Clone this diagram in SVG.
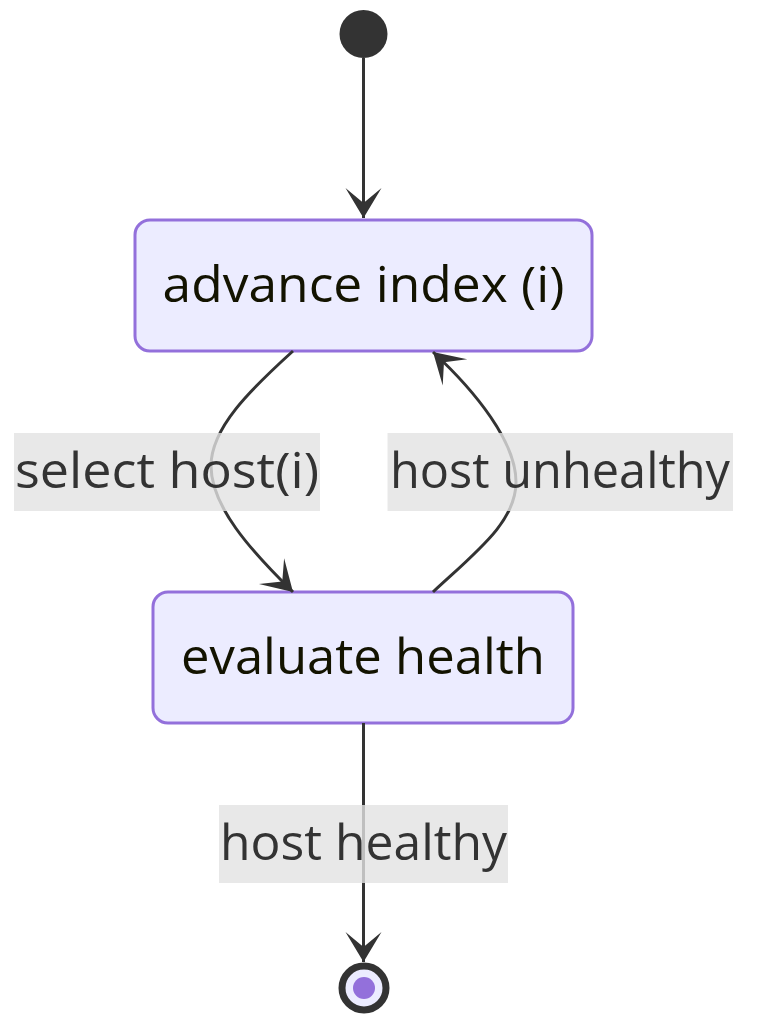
<svg xmlns="http://www.w3.org/2000/svg" width="763" height="1030" viewBox="0 0 763 1030">
<defs>
<style>
.node rect{fill:#ECECFF;stroke:#9370DB;stroke-width:3}
.ntext{font-family:"Open Sans","Liberation Sans",sans-serif;font-size:50px;fill:#131300;text-anchor:middle}
.edge{fill:none;stroke:#333333;stroke-width:3;marker-end:url(#barb)}
.lbg{fill:#e2e2e2;opacity:0.8}
.ltext{font-family:"Open Sans","Liberation Sans",sans-serif;font-size:50px;fill:#333333;text-anchor:middle}
</style>
<marker id="barb" viewBox="0 0 20 14" refX="19" refY="7" markerUnits="userSpaceOnUse" markerWidth="60" markerHeight="42" orient="auto">
<path d="M19,7 L9,13 L14,7 L9,1 Z" fill="#333333"/>
</marker>
</defs>
<rect width="763" height="1030" fill="#ffffff"/>
<g id="start">
<circle cx="363.5" cy="34" r="24" fill="#333333"/>
</g>
<g id="advance" class="node">
<rect x="135" y="220" width="457" height="131" rx="15" ry="15"/>
<text class="ntext" x="363.5" y="302" textLength="402" lengthAdjust="spacingAndGlyphs">advance index (i)</text>
</g>
<g id="evaluate" class="node">
<rect x="153" y="592" width="420" height="131" rx="15" ry="15"/>
<text class="ntext" x="363" y="674" textLength="364" lengthAdjust="spacingAndGlyphs">evaluate health</text>
</g>
<g id="end">
<circle cx="364" cy="988" r="22" fill="#ECECFF" stroke="#333333" stroke-width="7"/>
<circle cx="364" cy="988" r="11" fill="#9370DB"/>
</g>
<g id="connectors">
<path class="edge" d="M363.5,58 L363.5,218"/>
<path class="edge" d="M293,351 C250,390 211,428 211,466 C211,506 250,550 293,592"/>
<path class="edge" d="M433,592 C476,552 516,522 516,482 C516,442 476,392 433,352"/>
<path class="edge" d="M363.5,723 L363.5,962"/>
<g id="label-select">
<rect class="lbg" x="14" y="433" width="306" height="78"/>
<text class="ltext" x="167" y="488" textLength="304" lengthAdjust="spacingAndGlyphs">select host(i)</text>
</g>
<g id="label-unhealthy">
<rect class="lbg" x="387.5" y="433" width="345.5" height="78"/>
<text class="ltext" x="560" y="488" textLength="340" lengthAdjust="spacingAndGlyphs">host unhealthy</text>
</g>
<g id="label-healthy">
<rect class="lbg" x="219" y="805" width="289" height="78"/>
<text class="ltext" x="363.5" y="860" textLength="287" lengthAdjust="spacingAndGlyphs">host healthy</text>
</g>
</g>
</svg>
